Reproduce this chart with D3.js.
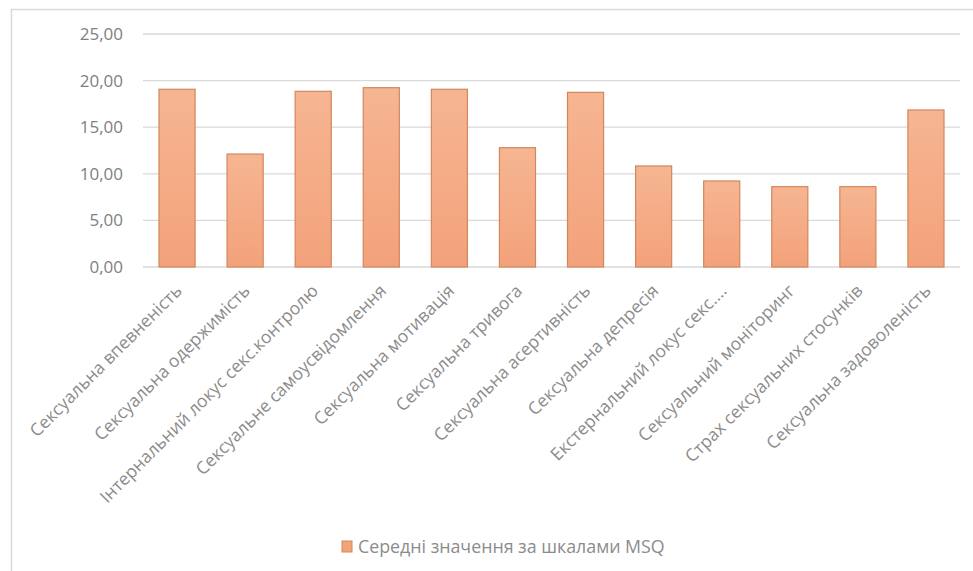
<!DOCTYPE html>
<html>
<head>
<meta charset="utf-8">
<script src="https://cdn.jsdelivr.net/npm/d3@7"></script>
<style>
html,body{margin:0;padding:0;background:#fff;}
svg{display:block;}
text{font-family:"Open Sans","Noto Sans",sans-serif;}
</style>
</head>
<body>
<svg id="chart" width="973" height="571"></svg>
<script>
const categories = [
  "Сексуальна впевненість",
  "Сексуальна одержимість",
  "Інтернальний локус секс.контролю",
  "Сексуальне самоусвідомлення",
  "Сексуальна мотивація",
  "Сексуальна тривога",
  "Сексуальна асертивність",
  "Сексуальна депресія",
  "Екстернальний локус секс....",
  "Сексуальний моніторинг",
  "Страх сексуальних стосунків",
  "Сексуальна задоволеність"
];
const values = [19.07, 12.12, 18.85, 19.24, 19.07, 12.80, 18.74, 10.84, 9.23, 8.62, 8.62, 16.85];
const yTicks = [0, 5, 10, 15, 20, 25];
const seriesName = "Середні значення за шкалами MSQ";

const svg = d3.select("#chart");
const W = 973, H = 571;
const m = {left:143, right:13};

// chart border
svg.append("rect").attr("x",11.5).attr("y",9.5).attr("width",W+20).attr("height",H+20)
  .attr("fill","#fff").attr("stroke","#d9d9d9").attr("stroke-width",1.5);

const defs = svg.append("defs");
const grad = defs.append("linearGradient").attr("id","barGrad").attr("x1",0).attr("y1",0).attr("x2",0).attr("y2",1);
grad.append("stop").attr("offset","0%").attr("stop-color","#f6b592");
grad.append("stop").attr("offset","100%").attr("stop-color","#f3a27a");

const x = d3.scaleBand().domain(categories).range([m.left, W - m.right]).paddingInner(0.47).paddingOuter(0.235);
const y = d3.scaleLinear().domain([0,25]).range([267, 34]);

// gridlines
svg.append("g").selectAll("line").data(yTicks).join("line")
  .attr("x1", m.left).attr("x2", W - m.right)
  .attr("y1", d => y(d)).attr("y2", d => y(d))
  .attr("stroke", "#d9d9d9").attr("stroke-width", 1.3);

// y labels
const fmt = d => d3.format(".2f")(d).replace(".", ",");
const yAxis = d3.axisLeft(y).tickValues(yTicks).tickFormat(fmt).tickSize(0).tickPadding(20);
const gy = svg.append("g").attr("transform", `translate(${m.left},0)`).call(yAxis);
gy.select(".domain").remove();
gy.selectAll("text").attr("fill","#808080").style("font-size","17px").style("font-family","'Open Sans',sans-serif");

// bars
svg.append("g").selectAll("rect").data(values).join("rect")
  .attr("x", (d,i) => x(categories[i]))
  .attr("y", d => y(d))
  .attr("width", x.bandwidth())
  .attr("height", d => y(0) - y(d))
  .attr("fill", "url(#barGrad)")
  .attr("stroke", "#d2875c").attr("stroke-width", 1.2);

// x labels
const xAxis = d3.axisBottom(x).tickSize(0).tickPadding(0);
const gx = svg.append("g").attr("transform", `translate(0,${y(0)})`).call(xAxis);
gx.select(".domain").remove();
gx.selectAll("text")
  .attr("fill","#8c8c8c").style("font-size","17.5px").style("font-family","'Open Sans',sans-serif")
  .attr("text-anchor","end").attr("dy",null).attr("y",0)
  .attr("transform","translate(6,25) rotate(-45)");

// legend
const lg = svg.append("g").attr("transform","translate(342,541)");
lg.append("rect").attr("x",0).attr("y",0).attr("width",10).attr("height",11)
  .attr("fill","#f3a27a").attr("stroke","#d2875c");
lg.append("text").attr("x",16).attr("y",12).text(seriesName)
  .attr("fill","#8c8c8c").style("font-size","17.8px");
</script>
</body>
</html>
